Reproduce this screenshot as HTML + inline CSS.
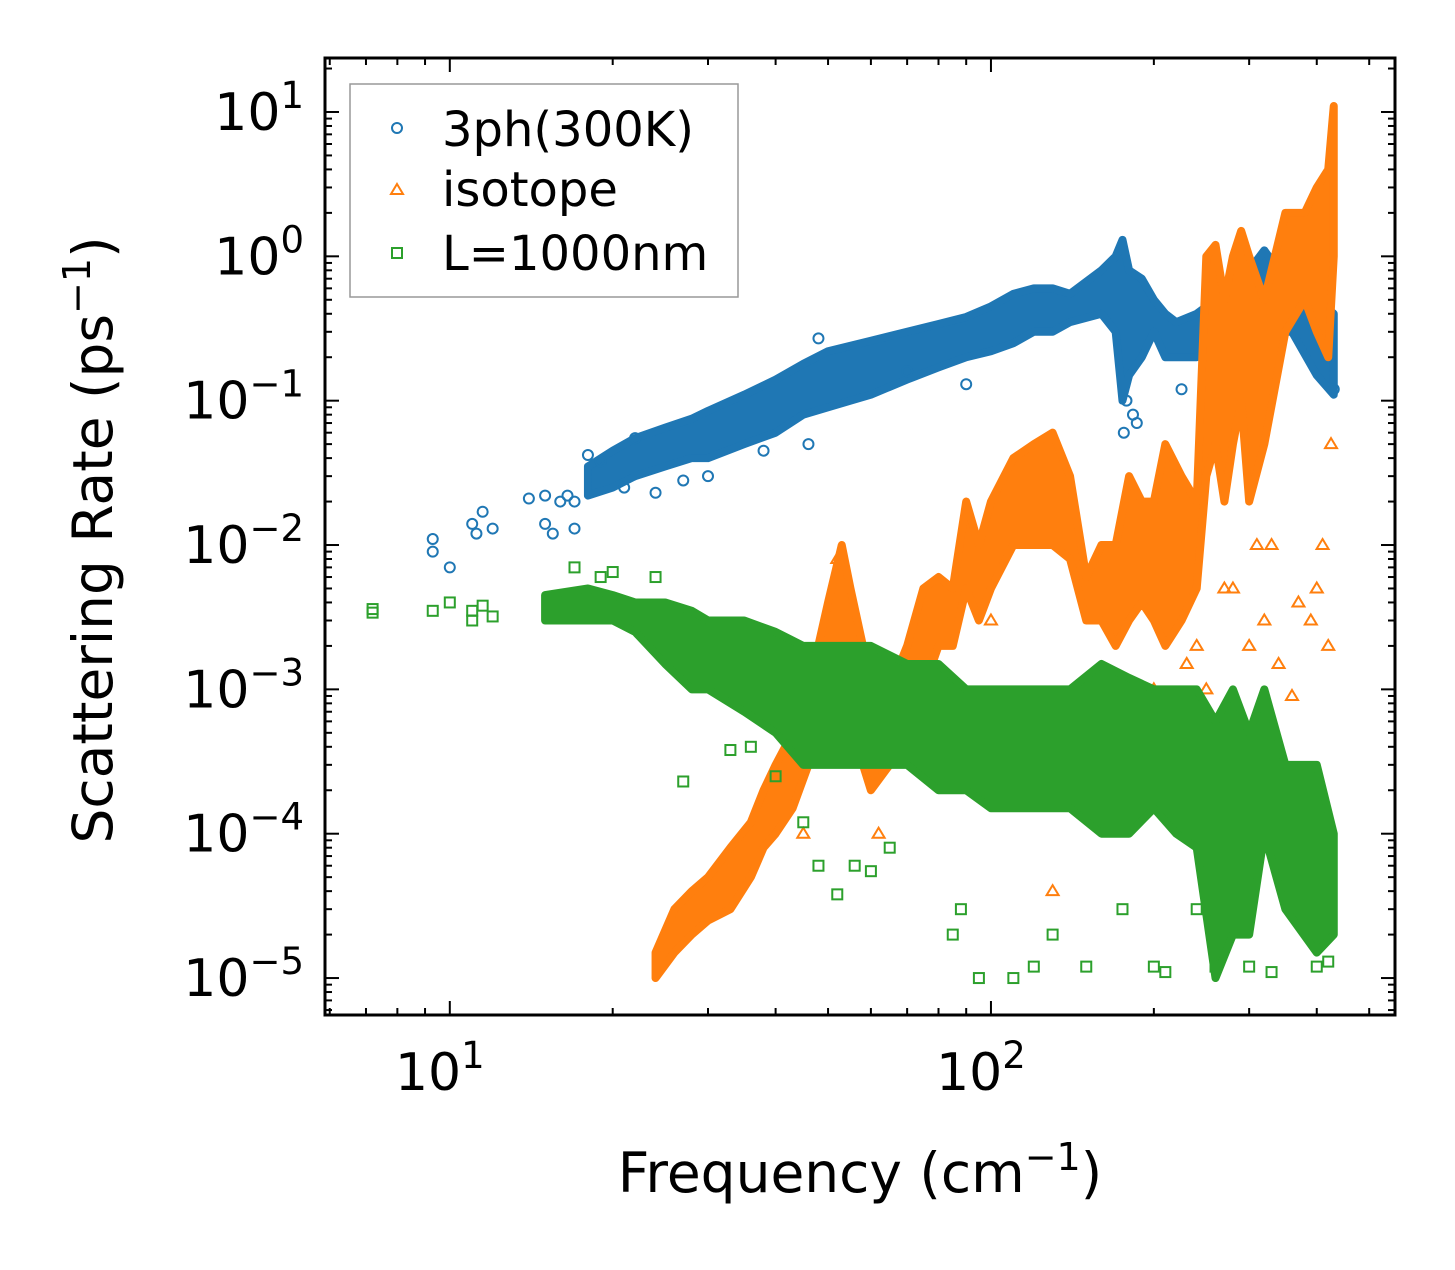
<!DOCTYPE html>
<html><head><meta charset="utf-8"><style>
body{margin:0;background:#fff}
svg text{font-family:"DejaVu Sans","Liberation Sans",sans-serif;fill:#000}
</style></head><body>
<svg id="chart" width="1455" height="1265" viewBox="0 0 1455 1265" xmlns="http://www.w3.org/2000/svg">
<g id="plot"></g>
<g id="axes"></g>
<text x="860" y="1192" font-size="55" text-anchor="middle">Frequency (cm<tspan dy="-22" font-size="38">−1</tspan><tspan dy="22">)</tspan></text>
<text transform="translate(112,540) rotate(-90)" font-size="55" text-anchor="middle">Scattering Rate (ps<tspan dy="-22" font-size="38">−1</tspan><tspan dy="22">)</tspan></text>
<g>
<rect x="350" y="84" width="388" height="213" fill="#fff" stroke="#999" stroke-width="1.5"/>
<g><circle cx="397" cy="128" r="5" fill="none" stroke="#1f77b4" stroke-width="2"/><text x="442" y="146" font-size="48">3ph(300K)</text></g>
<g><path d="M397,184 L403,194 L391,194 Z" fill="none" stroke="#ff7f0e" stroke-width="2"/><text x="442" y="206" font-size="48">isotope</text></g>
<g><rect x="392" y="248" width="10" height="10" fill="none" stroke="#2ca02c" stroke-width="2"/><text x="442" y="270" font-size="48">L=1000nm</text></g>
</g>
</svg>
<script>
// Blue 3ph bands: x, low, high
const blueX=[18,20,22,25,28,30,35,40,45,50,55,60,70,80,90,100,110,120,130,140,160,170,175,180,190,200,210,220,240,260,280,300,320,340,360,400,430];
const blueLo=[0.022,0.025,0.03,0.035,0.04,0.04,0.05,0.06,0.08,0.09,0.1,0.11,0.14,0.17,0.2,0.22,0.25,0.3,0.3,0.35,0.4,0.3,0.1,0.15,0.2,0.3,0.2,0.2,0.2,0.25,0.3,0.3,0.4,0.3,0.3,0.15,0.11];
const blueHi=[0.035,0.045,0.055,0.065,0.075,0.085,0.11,0.14,0.18,0.22,0.24,0.26,0.3,0.34,0.38,0.45,0.55,0.6,0.6,0.55,0.8,1.0,1.3,0.8,0.7,0.5,0.4,0.35,0.4,0.5,0.7,0.8,1.1,0.8,0.6,0.5,0.4];
const blueSx=[9.3,9.3,10,11,11.5,11.2,12,14,15,15,15.5,16,16.5,17,17,18,19,21,22,24,27,30,38,46,48,70,90,176,178,183,186,225,250,330,430];
const blueSy=[0.009,0.011,0.007,0.014,0.017,0.012,0.013,0.021,0.022,0.014,0.012,0.02,0.022,0.013,0.02,0.042,0.038,0.025,0.055,0.023,0.028,0.03,0.045,0.05,0.27,0.16,0.13,0.06,0.1,0.08,0.07,0.12,0.15,0.3,0.12];
// Orange isotope bands
const oraX=[24,26,28,30,33,36,38,40,43,46,50,53,55,58,60,65,70,75,80,85,90,95,100,110,120,130,140,150,160,170,180,190,200,210,225,240,250,260,270,280,290,300,320,350,380,400,420,430];
const oraLo=[1e-5,1.5e-5,2e-5,2.5e-5,3e-5,5e-5,8e-5,1e-4,1.5e-4,3e-4,1e-3,2e-3,1e-3,3e-4,2e-4,3e-4,5e-4,1e-3,2e-3,2e-3,5e-3,3e-3,5e-3,1e-2,1e-2,1e-2,8e-3,3e-3,3e-3,2e-3,3e-3,4e-3,3e-3,2e-3,3e-3,5e-3,3e-2,5e-2,0.02,0.05,0.1,0.02,0.05,0.3,0.5,0.3,0.2,1];
const oraHi=[1.5e-5,3e-5,4e-5,5e-5,8e-5,1.2e-4,2e-4,3e-4,5e-4,1e-3,4e-3,1e-2,5e-3,2e-3,1e-3,1e-3,2e-3,5e-3,6e-3,5e-3,2e-2,1e-2,2e-2,4e-2,5e-2,6e-2,3e-2,6e-3,1e-2,1e-2,3e-2,2e-2,2e-2,5e-2,3e-2,2e-2,1,1.2,0.5,1,1.5,1,0.5,2,2,3,4,11];
const oraSx=[45,52,60,62,100,130,200,210,230,240,250,270,280,310,330,360,390,400,410,420,425,300,320,340,370];
const oraSy=[1e-4,8e-3,6e-4,1e-4,3e-3,4e-5,1e-3,8e-4,1.5e-3,2e-3,1e-3,5e-3,5e-3,0.01,0.01,9e-4,3e-3,5e-3,0.01,2e-3,0.05,2e-3,3e-3,1.5e-3,4e-3];
// Green L=1000nm bands
const grnX=[15,18,20,22,25,28,30,35,40,45,50,60,70,80,90,100,120,140,160,180,200,220,240,260,280,300,320,350,400,430];
const grnLo=[3e-3,3e-3,3e-3,2.5e-3,1.5e-3,1e-3,1e-3,7e-4,5e-4,3e-4,3e-4,3e-4,3e-4,2e-4,2e-4,1.5e-4,1.5e-4,1.5e-4,1e-4,1e-4,1.5e-4,1e-4,8e-5,1e-5,2e-5,2e-5,1e-4,3e-5,1.5e-5,2e-5];
const grnHi=[4.5e-3,5e-3,4.5e-3,4e-3,4e-3,3.5e-3,3e-3,3e-3,2.5e-3,2e-3,2e-3,2e-3,1.5e-3,1.5e-3,1e-3,1e-3,1e-3,1e-3,1.5e-3,1.2e-3,1e-3,1e-3,1e-3,6e-4,1e-3,5e-4,1e-3,3e-4,3e-4,1e-4];
const grnSx=[7.2,7.2,9.3,10,11,11,11.5,12,17,19,20,24,27,33,36,40,45,48,52,56,60,65,85,88,95,110,120,130,150,175,200,210,240,260,300,330,400,420];
const grnSy=[3.6e-3,3.4e-3,3.5e-3,4e-3,3.5e-3,3e-3,3.8e-3,3.2e-3,7e-3,6e-3,6.5e-3,6e-3,2.3e-4,3.8e-4,4e-4,2.5e-4,1.2e-4,6e-5,3.8e-5,6e-5,5.5e-5,8e-5,2e-5,3e-5,1e-5,1e-5,1.2e-5,2e-5,1.2e-5,3e-5,1.2e-5,1.1e-5,3e-5,1.2e-5,1.2e-5,1.1e-5,1.2e-5,1.3e-5];
const xTicks=[10,100];
const xTickLabels=["1","2"];
const yTicks=[1e1,1,1e-1,1e-2,1e-3,1e-4,1e-5];
const yTickLabels=["1","0","−1","−2","−3","−4","−5"];

const L=325,R=1395,T=58,B=1015;
const xmin=Math.log10(5.88),xmax=Math.log10(558),ymin=-5.256,ymax=1.374;
const X=v=>L+(Math.log10(v)-xmin)/(xmax-xmin)*(R-L);
const Y=v=>B-(Math.log10(v)-ymin)/(ymax-ymin)*(B-T);
const NS="http://www.w3.org/2000/svg";
const plot=document.getElementById('plot'),axes=document.getElementById('axes');
function mk(tag,attrs,parent){const e=document.createElementNS(NS,tag);for(const k in attrs)e.setAttribute(k,attrs[k]);parent.appendChild(e);return e;}
const clip=mk('clipPath',{id:'cp'},plot);mk('rect',{x:L,y:T,width:R-L,height:B-T},clip);
plot.setAttribute('clip-path','url(#cp)');
function band(xs,lo,hi,col,name){
  let d='M'+xs.map((x,i)=>X(x)+','+Y(hi[i])).join(' L');
  d+=' L'+xs.map((x,i)=>X(x)+','+Y(lo[i])).reverse().join(' L')+' Z';
  const p=mk('path',{d:d,fill:col,stroke:col,'stroke-width':8,'stroke-linejoin':'round'},plot);
  
  
}
function pts(xs,ys,col,shape,name){
  const g=mk('g',{},plot);
  
  
  xs.forEach((x,i)=>{const cx=X(x),cy=Y(ys[i]);let e;
    if(shape==='c')e=mk('circle',{cx:cx,cy:cy,r:5,fill:'none',stroke:col,'stroke-width':2},g);
    else if(shape==='t')e=mk('path',{d:`M${cx},${cy-6} L${cx+6},${cy+4} L${cx-6},${cy+4} Z`,fill:'none',stroke:col,'stroke-width':2},g);
    else e=mk('rect',{x:cx-5,y:cy-5,width:10,height:10,fill:'none',stroke:col,'stroke-width':2},g);
    
    
  });
}
band(blueX,blueLo,blueHi,'#1f77b4','band-3ph');pts(blueSx,blueSy,'#1f77b4','c','points-3ph');
band(oraX,oraLo,oraHi,'#ff7f0e','band-isotope');pts(oraSx,oraSy,'#ff7f0e','t','points-isotope');
band(grnX,grnLo,grnHi,'#2ca02c','band-l1000nm');pts(grnSx,grnSy,'#2ca02c','s','points-l1000nm');
const fr=mk('rect',{x:L,y:T,width:R-L,height:B-T,fill:'none',stroke:'#000','stroke-width':3},axes);


for(let e=0;e<=2;e++)for(let m=1;m<10;m++){const v=m*Math.pow(10,e);const x=X(v);if(x<L||x>R)continue;const len=m===1?14:7;
  mk('line',{x1:x,x2:x,y1:B,y2:B-len,stroke:'#000','stroke-width':2},axes);mk('line',{x1:x,x2:x,y1:T,y2:T+len,stroke:'#000','stroke-width':2},axes);}
for(let e=-6;e<=1;e++)for(let m=1;m<10;m++){const v=m*Math.pow(10,e);const y=Y(v);if(y<T||y>B)continue;const len=m===1?14:7;
  mk('line',{x1:L,x2:L+len,y1:y,y2:y,stroke:'#000','stroke-width':2},axes);mk('line',{x1:R,x2:R-len,y1:y,y2:y,stroke:'#000','stroke-width':2},axes);}
xTicks.forEach((v,i)=>{const t=mk('text',{x:X(v)-10,y:1090,'font-size':52,'text-anchor':'middle'},axes);
  
  
  t.innerHTML='10<tspan dy="-22" font-size="37">'+xTickLabels[i]+'</tspan>';});
yTicks.forEach((v,i)=>{const t=mk('text',{x:304,y:Y(v)+18,'font-size':52,'text-anchor':'end'},axes);
  
  
  t.innerHTML='10<tspan dy="-22" font-size="37">'+yTickLabels[i]+'</tspan>';});
</script>
</body></html>
